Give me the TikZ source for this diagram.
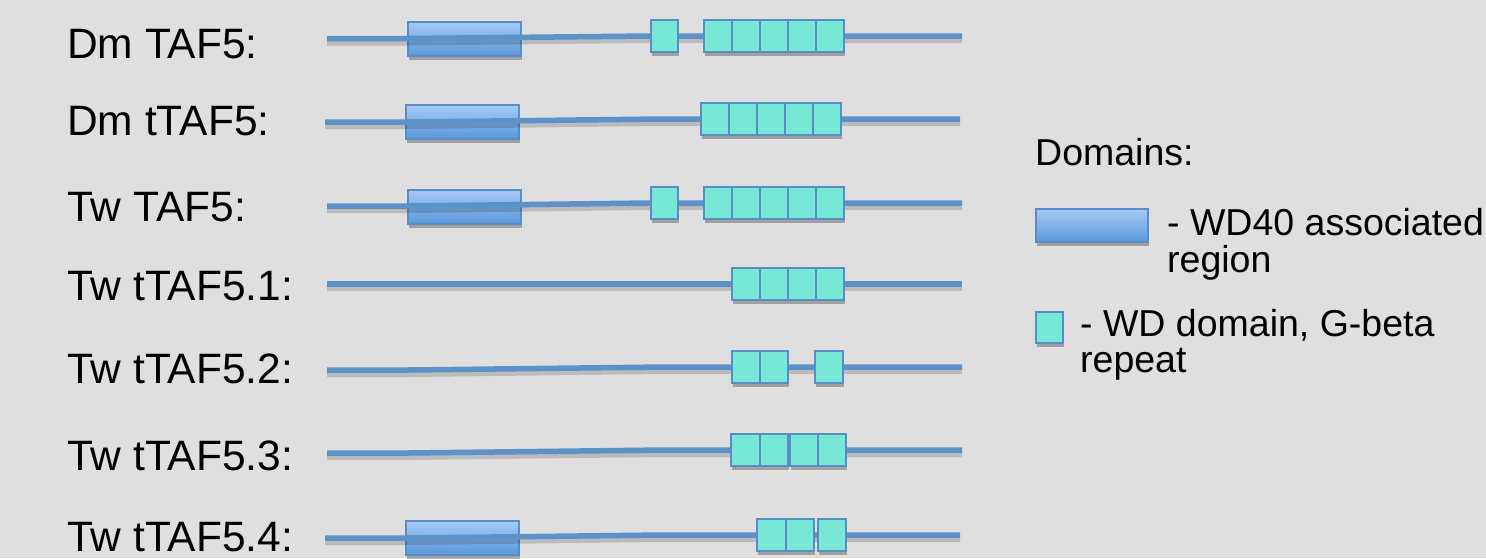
\documentclass[tikz,border=0pt]{standalone}
\usepackage{fontspec}
\setmainfont{Liberation Sans}
\usetikzlibrary{shadows}
\definecolor{bg}{HTML}{DFDFDF}
\definecolor{linec}{HTML}{5B93C9}
\definecolor{edgec}{HTML}{5A8DC6}
\definecolor{wdteal}{HTML}{78E8D6}
\definecolor{wdtop}{HTML}{A6CAF8}
\definecolor{wdbot}{HTML}{5A97D9}
\begin{document}
\begin{tikzpicture}[x=1pt,y=-1pt,
  lab/.style={anchor=base west, inner sep=0pt, font=\fontsize{42.5}{50}\selectfont},
  leg/.style={anchor=base west, inner sep=0pt, font=\fontsize{37.5}{44}\selectfont},
  shad/.style={drop shadow={shadow xshift=1pt, shadow yshift=-4pt, opacity=0.28, fill=black}},
  wdforty/.style={draw=edgec, line width=2pt, top color=wdtop, bottom color=wdbot,
    inner sep=0pt, outer sep=0pt, anchor=north west, minimum width=113pt, minimum height=34pt, shad},
  gb/.style={draw=edgec, line width=2.8pt, fill=wdteal, inner sep=0pt, outer sep=0pt,
    anchor=north west, minimum width=28pt, minimum height=32pt, shad},
  prot/.style={draw=linec, line width=5.5pt},
  protshadow/.style={draw=black, opacity=0.16, line width=6pt, transform canvas={yshift=-4pt}}
]
\fill[bg] (0,0) rectangle (1486,558);
\useasboundingbox (0,0) rectangle (1486,558);

% labels
\node[lab] (l1) at (67,58) {Dm TAF5:};
\node[lab] (l2) at (67,135) {Dm tTAF5:};
\node[lab] (l3) at (67,221) {Tw TAF5:};
\node[lab] (l4) at (67,300) {Tw tTAF5.1:};
\node[lab] (l5) at (67,383) {Tw tTAF5.2:};
\node[lab] (l6) at (67,470) {Tw tTAF5.3:};
\node[lab] (l7) at (67,551) {Tw tTAF5.4:};

% protein line coordinates
\coordinate (r1a) at (327,38.5); \coordinate (r1b) at (408,38.5); \coordinate (r1c) at (650,36); \coordinate (r1d) at (962,36);
\coordinate (r2a) at (325,122); \coordinate (r2b) at (406,122); \coordinate (r2c) at (662,119); \coordinate (r2d) at (960,119);
\coordinate (r3a) at (327,206); \coordinate (r3b) at (408,206); \coordinate (r3c) at (650,203); \coordinate (r3d) at (962,203);
\coordinate (r4a) at (327,284); \coordinate (r4d) at (962,284);
\coordinate (r5a) at (327,370); \coordinate (r5b) at (408,370); \coordinate (r5c) at (665,367); \coordinate (r5d) at (962,367);
\coordinate (r6a) at (327,453); \coordinate (r6b) at (408,453); \coordinate (r6c) at (665,450); \coordinate (r6d) at (962,450);
\coordinate (r7a) at (325,538); \coordinate (r7b) at (406,538); \coordinate (r7c) at (662,535); \coordinate (r7d) at (960,535);

% WD40 associated regions
\node[wdforty] (b1) at (408,22) {};
\node[wdforty] (b2) at (406,105) {};
\node[wdforty] (b3) at (408,190) {};
\node[wdforty] (b7) at (406,521) {};

% protein lines
\foreach \r in {1,2,3,5,6,7}{
  \draw[protshadow] (r\r a) -- (r\r b) -- (r\r c) -- (r\r d);
}
\draw[protshadow] (r4a) -- (r4d);
\foreach \r in {1,2,3,5,6,7}{
  \draw[prot] (r\r a) -- (r\r b) -- (r\r c) -- (r\r d);
}
\draw[prot] (r4a) -- (r4d);

% WD / G-beta repeats
% row 1
\node[gb, minimum width=27pt] (t1s) at (651,20) {};
\node[gb] (t1a) at (704,20) {};
\node[gb] (t1b) at (732,20) {};
\node[gb] (t1c) at (760,20) {};
\node[gb] (t1d) at (788,20) {};
\node[gb] (t1e) at (816,20) {};
% row 2
\node[gb] (t2a) at (701,103) {};
\node[gb] (t2b) at (729,103) {};
\node[gb] (t2c) at (757,103) {};
\node[gb] (t2d) at (785,103) {};
\node[gb] (t2e) at (813,103) {};
% row 3
\node[gb, minimum width=27pt] (t3s) at (651,187) {};
\node[gb] (t3a) at (704,187) {};
\node[gb] (t3b) at (732,187) {};
\node[gb] (t3c) at (760,187) {};
\node[gb] (t3d) at (788,187) {};
\node[gb] (t3e) at (816,187) {};
% row 4
\node[gb] (t4a) at (732,268) {};
\node[gb] (t4b) at (760,268) {};
\node[gb] (t4c) at (788,268) {};
\node[gb] (t4d) at (816,268) {};
% row 5
\node[gb] (t5a) at (732,351) {};
\node[gb] (t5b) at (760,351) {};
\node[gb] (t5c) at (815,351) {};
% row 6
\node[gb, minimum width=29pt] (t6a) at (731,434) {};
\node[gb, minimum width=28pt] (t6b) at (760,434) {};
\node[gb] (t6c) at (790,434) {};
\node[gb] (t6d) at (818,434) {};
% row 7
\node[gb, minimum width=29pt] (t7a) at (757,519) {};
\node[gb, minimum width=28pt] (t7b) at (786,519) {};
\node[gb] (t7c) at (818,519) {};

% legend
\node[leg] (dom) at (1035,165) {Domains:};
\node[wdforty, minimum width=112pt, minimum height=33pt] (lgb) at (1036,209) {};
\node[leg] (lgt1) at (1167,235) {- WD40 associated};
\node[leg] (lgt2) at (1167,272) {region};
\node[gb, minimum width=27pt, minimum height=31pt] (lgs) at (1036,312) {};
\node[leg] (lgt3) at (1080,336) {- WD domain, G-beta};
\node[leg] (lgt4) at (1080,372) {repeat};
\end{tikzpicture}
\end{document}
